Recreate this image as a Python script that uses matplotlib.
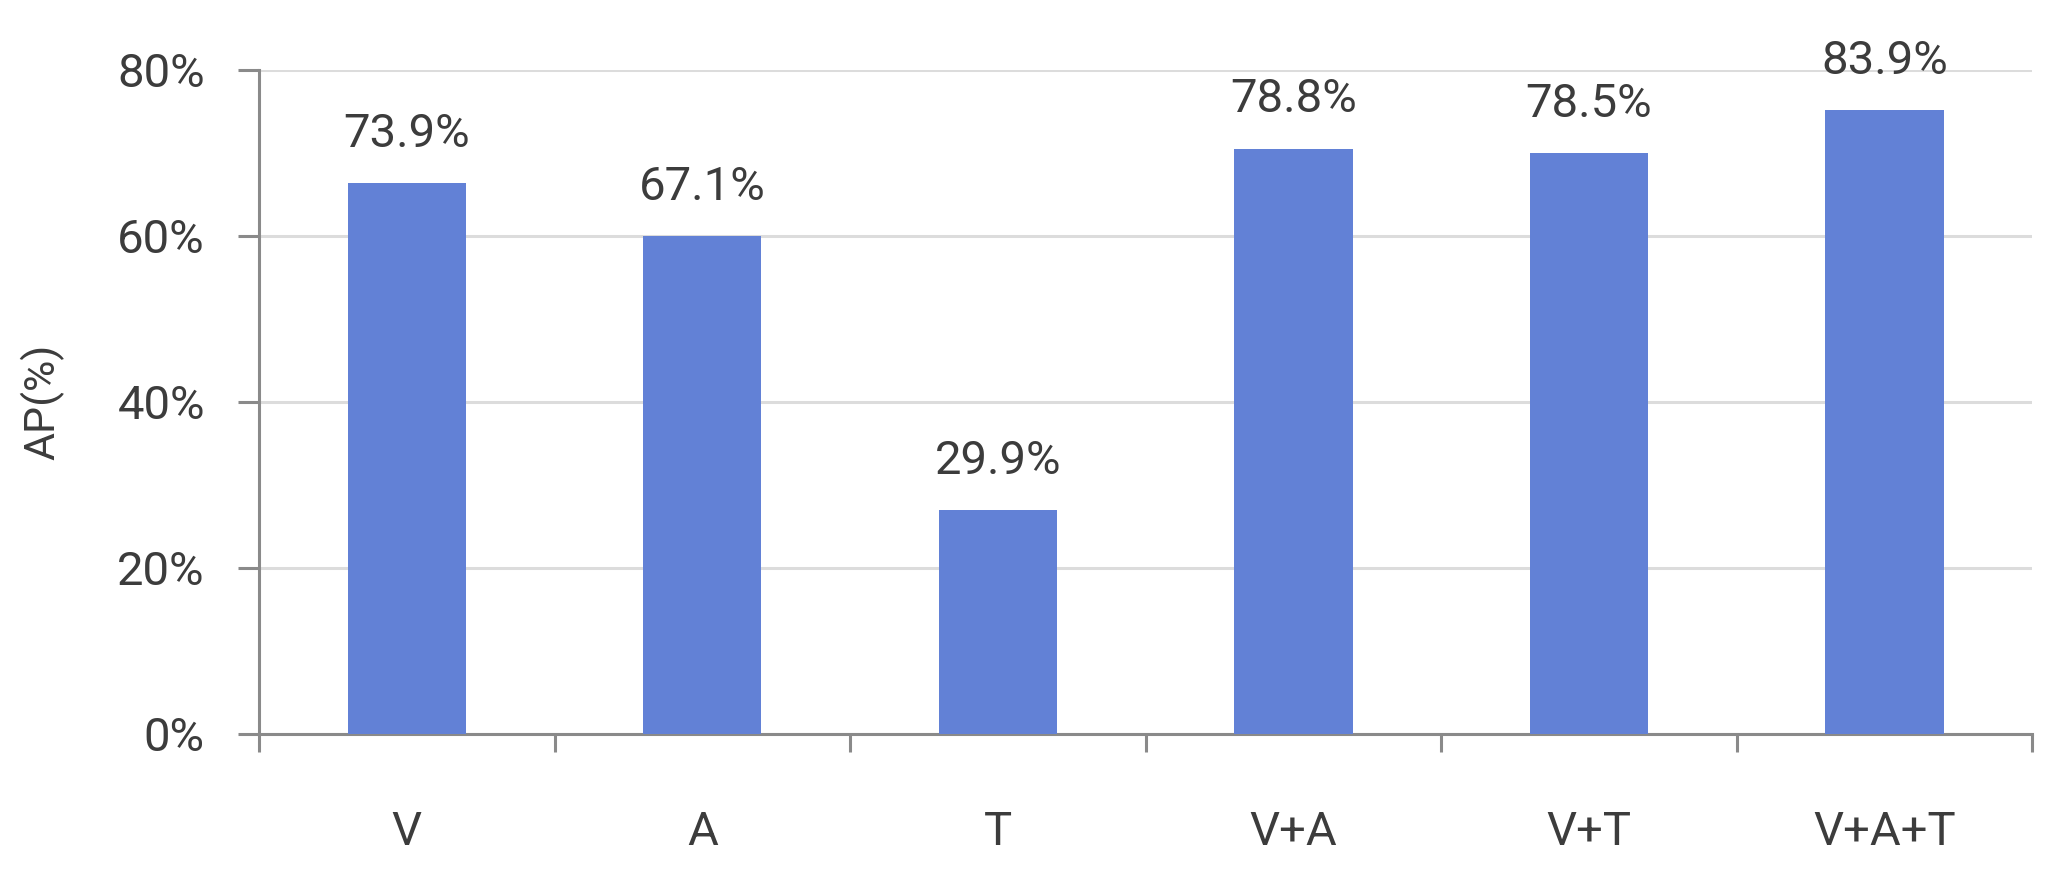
import matplotlib.pyplot as plt
import numpy as np

categories = ['V', 'A', 'T', 'V+A', 'V+T', 'V+A+T']
# bar heights as drawn in the picture (they sit a bit below the printed labels)
bar_heights = [66.3, 59.9, 26.9, 70.5, 70.0, 75.1]
value_labels = ['73.9%', '67.1%', '29.9%', '78.8%', '78.5%', '83.9%']
y_ticks = [0, 20, 40, 60, 80]

bar_color = '#6281d6'
text_color = '#3c3c3c'
axis_color = '#8a8a8a'
grid_color = '#dcdcdc'

plt.rcParams['font.family'] = ['Roboto', 'DejaVu Sans']

fig = plt.figure(figsize=(20.62, 8.73), dpi=100)
ax = fig.add_axes([0.1256, 0.1597, 0.86, 0.7605])

x = np.arange(len(categories))
ax.bar(x, bar_heights, width=0.4, color=bar_color, zorder=3)

for xi, h, lab in zip(x, bar_heights, value_labels):
    ax.annotate(lab, (xi, h), xytext=(0, 26), textcoords='offset points',
                ha='center', va='baseline', fontsize=34, color=text_color,
                annotation_clip=False)

ax.set_xlim(-0.5, len(categories) - 0.5)
ax.set_ylim(0, 80)
ax.set_yticks(y_ticks)
ax.set_yticklabels([f'{t}%' for t in y_ticks])
ax.set_xticks(np.arange(-0.5, len(categories)), minor=False)
ax.set_xticklabels([])
ax.set_xticks(x, minor=True)
ax.set_xticklabels(categories, minor=True)

ax.yaxis.grid(True, color=grid_color, linewidth=2.2, zorder=0)
ax.set_axisbelow(True)

for s in ['top', 'right']:
    ax.spines[s].set_visible(False)
for s in ['left', 'bottom']:
    ax.spines[s].set_color(axis_color)
    ax.spines[s].set_linewidth(2.2)

ax.tick_params(axis='y', which='major', length=15, width=2.2, color=axis_color,
               labelsize=34, labelcolor=text_color, pad=24)
ax.tick_params(axis='x', which='major', length=13, width=2.2, color=axis_color)
ax.tick_params(axis='x', which='minor', length=0, labelsize=34,
               labelcolor=text_color, pad=55)

ax.set_ylabel('AP(%)', fontsize=31, color=text_color, labelpad=38)

fig.savefig('out.png', dpi=100)
